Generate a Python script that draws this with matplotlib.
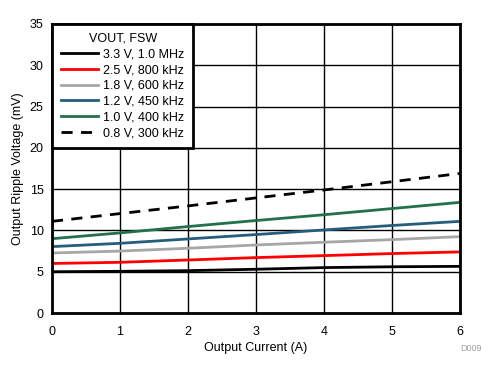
import matplotlib
matplotlib.use("Agg")
import matplotlib.pyplot as plt

plt.rcParams['font.family'] = ['Liberation Sans', 'DejaVu Sans']

current = [0, 1, 2, 3, 4, 5, 6]
ripple_33 = [5.0, 5.05, 5.13, 5.3, 5.5, 5.6, 5.65]
ripple_25 = [6.0, 6.14, 6.42, 6.71, 6.95, 7.2, 7.4]
ripple_18 = [7.27, 7.5, 7.84, 8.24, 8.57, 8.89, 9.25]
ripple_12 = [8.04, 8.44, 8.97, 9.5, 10.06, 10.6, 11.1]
ripple_10 = [9.0, 9.7, 10.47, 11.2, 11.9, 12.65, 13.4]
ripple_08 = [11.1, 12.04, 12.97, 13.94, 14.9, 15.9, 16.9]

labels = ["3.3 V, 1.0 MHz", "2.5 V, 800 kHz", "1.8 V, 600 kHz",
          "1.2 V, 450 kHz", "1.0 V, 400 kHz", "0.8 V, 300 kHz"]

fig = plt.figure(figsize=(4.98, 3.75), dpi=100)
ax = fig.add_axes([0.1044, 0.1653, 0.8193, 0.7707])

ax.plot(current, ripple_33, color="black", lw=2, label=labels[0])
ax.plot(current, ripple_25, color="#ff0000", lw=2, label=labels[1])
ax.plot(current, ripple_18, color="#a6a6a6", lw=2, label=labels[2])
ax.plot(current, ripple_12, color="#255e7a", lw=2, label=labels[3])
ax.plot(current, ripple_10, color="#23704b", lw=2, label=labels[4])
ax.plot(current, ripple_08, color="black", lw=2, dashes=(4, 3), label=labels[5])

ax.set_xlim(0, 6)
ax.set_ylim(0, 35)
ax.set_xticks(range(0, 7))
ax.set_yticks(range(0, 36, 5))
ax.grid(True, color="black", lw=1)
ax.set_axisbelow(True)
ax.tick_params(axis="x", length=0, labelsize=9, pad=9)
ax.tick_params(axis="y", length=0, labelsize=9, pad=6)
for s in ax.spines.values():
    s.set_linewidth(2)

ax.set_xlabel("Output Current (A)", fontsize=9, labelpad=3)
ax.set_ylabel("Output Ripple Voltage (mV)", fontsize=9, labelpad=4)

leg = ax.legend(loc="upper left", title="VOUT, FSW", fontsize=9, title_fontsize=9,
                frameon=True, fancybox=False, framealpha=1, edgecolor="black",
                handlelength=3.0, handletextpad=0.4, labelspacing=0.3,
                borderaxespad=0, borderpad=0.7)
leg.get_frame().set_linewidth(2)

fig.text(0.968, 0.063, "D009", fontsize=6.5, color="#a0a0a0", ha="right")

fig.savefig("out.png", dpi=100)
